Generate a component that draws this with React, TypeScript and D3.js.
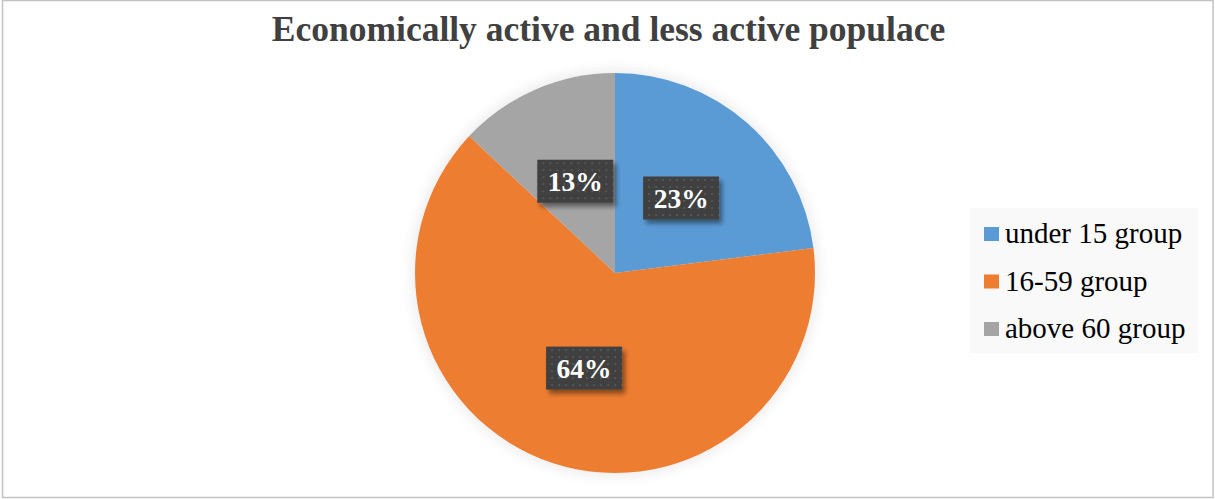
import React from "react";
import * as d3 from "d3";

const categories = ["under 15 group", "16-59 group", "above 60 group"];
const values = [23, 64, 13];
const colors = ["#5B9BD5", "#ED7D31", "#A5A5A5"];
const title = "Economically active and less active populace";

const W = 1215;
const H = 499;

export default function App() {
  const cx = 615;
  const cy = 273;
  const r = 200;
  const pie = d3.pie<number>().sort(null).value((d) => d)(values);
  const arc = d3.arc<d3.PieArcDatum<number>>().innerRadius(0).outerRadius(r);
  const labelArc = d3.arc<d3.PieArcDatum<number>>().innerRadius(100).outerRadius(100);
  const total = d3.sum(values);
  const legendY = d3.scaleLinear().domain([0, 1]).range([243, 290.5]);

  return (
    <svg
      width={W}
      height={H}
      style={{ position: "absolute", left: 0, top: 0, background: "#fff" }}
      fontFamily="'Liberation Serif', 'Times New Roman', serif"
    >
      <defs>
        <pattern id="dots" width="7" height="7" patternUnits="userSpaceOnUse">
          <rect width="7" height="7" fill="#404040" />
          <rect x="2" y="2" width="2" height="2" fill="#555555" />
        </pattern>
        <filter id="shadow" x="-30%" y="-30%" width="160%" height="170%">
          <feGaussianBlur in="SourceAlpha" stdDeviation="2.5" />
          <feOffset dx="3" dy="4" result="b" />
          <feComponentTransfer>
            <feFuncA type="linear" slope="0.45" />
          </feComponentTransfer>
          <feMerge>
            <feMergeNode />
            <feMergeNode in="SourceGraphic" />
          </feMerge>
        </filter>
        <filter id="glow" x="-20%" y="-20%" width="140%" height="140%">
          <feGaussianBlur stdDeviation="7" />
        </filter>
      </defs>
      <rect x={2.5} y={0.5} width={1210.5} height={497} fill="#fff" stroke="#c3c3c3" strokeWidth={1.5} />
      <text
        x={608.5}
        y={41}
        textAnchor="middle"
        fontSize={35.5}
        fontWeight="bold"
        fill="#404040"
      >
        {title}
      </text>
      <circle cx={cx} cy={cy} r={r + 3} fill="#000" opacity={0.08} filter="url(#glow)" />
      <g transform={`translate(${cx},${cy})`}>
        {pie.map((p, i) => (
          <path key={i} d={arc(p) || ""} fill={colors[i]} />
        ))}
        {pie.map((p, i) => {
          const [x, y] = labelArc.centroid(p);
          const label = `${Math.round((p.data / total) * 100)}%`;
          return (
            <g key={"l" + i} transform={`translate(${x},${y})`}>
              <rect x={-38} y={-21.5} width={76} height={43} fill="url(#dots)" filter="url(#shadow)" />
              <text y={10} textAnchor="middle" fontSize={27.5} fontWeight="bold" fill="#fff">
                {label}
              </text>
            </g>
          );
        })}
      </g>
      <rect x={970} y={208} width={228} height={145} fill="#f9f9f9" />
      {categories.map((c, i) => (
        <g key={c}>
          <rect x={984} y={legendY(i) - 16} width={15} height={14} fill={colors[i]} />
          <text x={1005} y={legendY(i)} fontSize={29} fill="#000">
            {c}
          </text>
        </g>
      ))}
    </svg>
  );
}
